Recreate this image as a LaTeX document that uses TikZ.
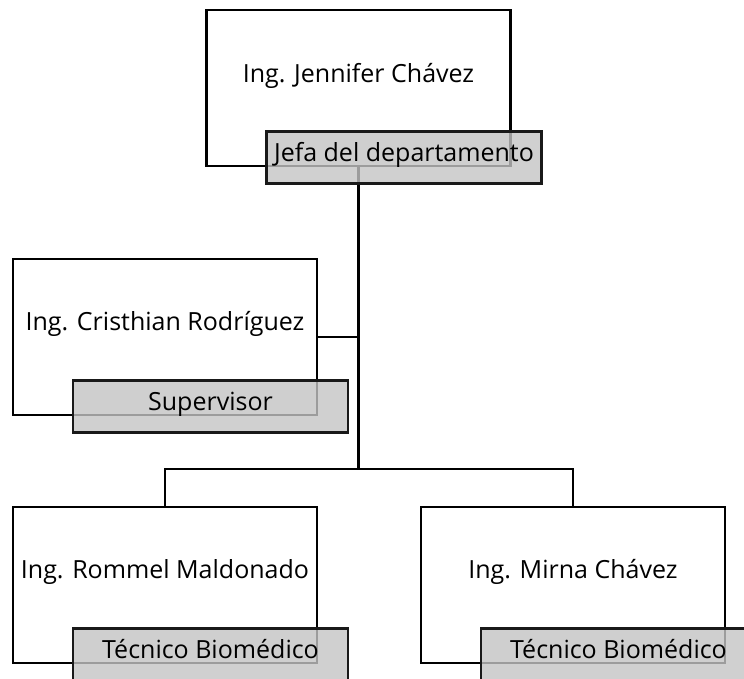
\documentclass[tikz,border=0pt]{standalone}
\usepackage{fontspec}
\setmainfont{Open Sans}
\definecolor{cargogris}{RGB}{196,196,196}
\begin{document}
\begin{tikzpicture}[x=1pt, y=-1pt,
    font=\fontsize{25}{29}\selectfont,
    persona/.style={draw, line width=2.5pt, fill=white, minimum width=304pt, minimum height=156pt, inner sep=0pt},
    cargo/.style={draw=black!90, line width=2.5pt, fill=cargogris, fill opacity=0.8, text opacity=1,
        minimum width=275pt, minimum height=52pt, inner sep=0pt, text height=0.8em, text depth=0.09em},
    nombre/.style={inner sep=0pt, text height=0.8em, text depth=0.09em},
    linea/.style={line width=2.5pt}]
    \useasboundingbox (0,0) rectangle (744,679);
    \clip (0,0) rectangle (744,679);

    % Name boxes
    \node[persona] (jefa) at (358.5,88) {};
    \node[persona] (super) at (165,337) {};
    \node[persona] (rommel) at (165,585) {};
    \node[persona] (mirna) at (573,585) {};

    % Names
    \node[nombre] (jefaN) at ([yshift=9pt]jefa.center) {Ing. Jennifer Chávez};
    \node[nombre] (superN) at ([yshift=10pt]super.center) {Ing. Cristhian Rodríguez};
    \node[nombre] (rommelN) at ([yshift=10pt]rommel.center) {Ing. Rommel Maldonado};
    \node[nombre] (mirnaN) at ([yshift=10pt]mirna.center) {Ing. Mirna Chávez};

    % Connectors
    \coordinate (bus) at (358.5,469);
    \draw[linea] (jefa.south) -- (bus);
    \draw[linea] (super.east) -- (super.east -| bus);
    \draw[linea] (rommel.north) |- (bus) -| (mirna.north);

    % Position labels
    \node[cargo] (jefaC) at (404,157.5) {Jefa del departamento};
    \node[cargo] (superC) at (210.5,406.5) {Supervisor};
    \node[cargo] (rommelC) at (210.5,654.5) {Técnico Biomédico};
    \node[cargo] (mirnaC) at (618.5,654.5) {Técnico Biomédico};
\end{tikzpicture}
\end{document}
